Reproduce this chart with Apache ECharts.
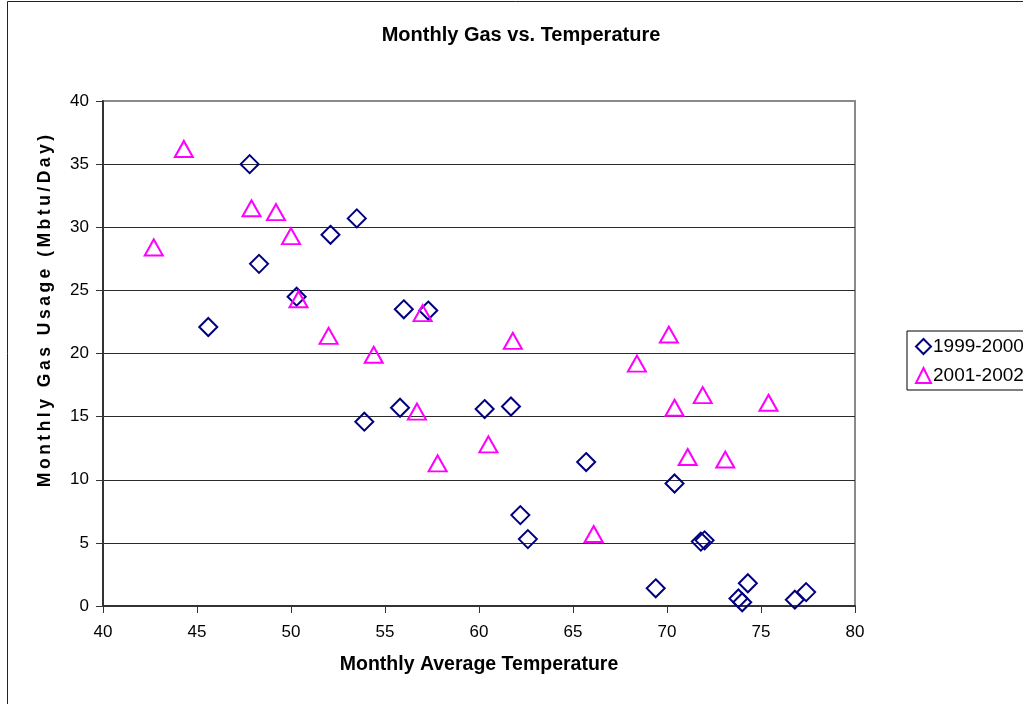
<!DOCTYPE html>
<html>
<head>
<meta charset="utf-8">
<script src="https://cdn.jsdelivr.net/npm/echarts@6/dist/echarts.min.js"></script>
<style>
  html, body { margin: 0; padding: 0; background: #fff; }
  #chart { width: 1023px; height: 704px; }
</style>
</head>
<body>
<div id="chart"></div>
<script>
// Monthly average temperature (x) and gas usage in Mbtu/Day (y)
const season1Name = '1999-2000';
const season1Temp = [47.8, 45.6, 48.3, 50.3, 52.1, 53.5, 53.9, 56.0, 55.8, 57.3, 60.3, 61.7, 62.2, 62.6, 65.7, 69.4, 70.4, 71.8, 72.0, 74.3, 73.8, 74.0, 76.8, 77.4];
const season1Gas  = [35.0, 22.1, 27.1, 24.5, 29.4, 30.7, 14.6, 23.5, 15.7, 23.4, 15.6, 15.8, 7.2, 5.3, 11.4, 1.4, 9.7, 5.1, 5.2, 1.8, 0.6, 0.3, 0.5, 1.1];

const season2Name = '2001-2002';
const season2Temp = [44.3, 42.7, 47.9, 49.2, 50.0, 50.4, 52.0, 54.4, 56.7, 57.0, 57.8, 60.5, 61.8, 66.1, 68.4, 70.1, 70.4, 71.1, 71.9, 73.1, 75.4];
const season2Gas  = [36.2, 28.4, 31.5, 31.2, 29.3, 24.3, 21.4, 19.9, 15.4, 23.2, 11.3, 12.8, 21.0, 5.7, 19.2, 21.5, 15.7, 11.8, 16.7, 11.6, 16.1];

const xTicks = { min: 40, max: 80, step: 5 };
const yTicks = { min: 0, max: 40, step: 5 };

const chartTitle = 'Monthly Gas vs. Temperature';
const xTitle = 'Monthly Average Temperature';
const yTitle = 'Monthly Gas Usage (Mbtu/Day)';

function pairs(xs, ys) { return xs.map((x, i) => [x, ys[i]]); }
// widen the tracking of a label by putting a thin space between its letters
function tracked(s) { return s.split('').join('\u2009'); }

const FONT = '"Liberation Sans", Arial, sans-serif';
const gridLineColors = [];
for (let v = yTicks.min; v <= yTicks.max; v += yTicks.step) {
  gridLineColors.push(v === yTicks.max ? '#8a8a8a' : '#2b2b2b');
}

const chart = echarts.init(document.getElementById('chart'), null, { renderer: 'canvas' });
chart.setOption({
  animation: false,
  backgroundColor: '#fff',
  textStyle: { fontFamily: FONT },
  graphic: [
    {
      // outer frame of the chart
      type: 'rect',
      left: 5, top: -1,
      shape: { width: 1200, height: 900 },
      style: { fill: 'none', stroke: '#222', lineWidth: 1 },
      silent: true, z: -1
    },
    {
      // vertical axis title, reading bottom to top
      type: 'text',
      x: 45, y: 311,
      rotation: Math.PI / 2,
      style: {
        text: tracked(yTitle),
        font: 'bold 17.5px ' + FONT,
        fill: '#000',
        align: 'center',
        verticalAlign: 'middle'
      },
      silent: true
    }
  ],
  title: {
    text: chartTitle,
    left: 516, top: 20, textAlign: 'center',
    textStyle: { fontFamily: FONT, fontSize: 20, fontWeight: 'bold', color: '#000' }
  },
  legend: {
    orient: 'vertical',
    left: 907, top: 331,
    padding: [6, 8, 5, 8],
    itemGap: 10,
    itemWidth: 15, itemHeight: 15,
    borderColor: '#000', borderWidth: 1,
    textStyle: { fontFamily: FONT, fontSize: 19, color: '#000', padding: [0, 0, 0, -3] },
    data: [season1Name, season2Name]
  },
  grid: {
    left: 103, right: 168, top: 101, bottom: 98,
    show: true, borderColor: '#8a8a8a', borderWidth: 2, backgroundColor: 'transparent'
  },
  xAxis: {
    type: 'value',
    min: xTicks.min, max: xTicks.max, interval: xTicks.step,
    name: xTitle,
    nameLocation: 'middle', nameGap: 49,
    nameTextStyle: { fontFamily: FONT, fontSize: 19.5, fontWeight: 'bold', color: '#000' },
    axisLine: { show: true, onZero: false, lineStyle: { color: '#333', width: 2 } },
    axisTick: { show: true, inside: false, length: 7, lineStyle: { color: '#333', width: 1 } },
    axisLabel: { fontFamily: FONT, fontSize: 17, color: '#000', margin: 18 },
    splitLine: { show: false }
  },
  yAxis: {
    type: 'value',
    min: yTicks.min, max: yTicks.max, interval: yTicks.step,
    axisLine: { show: true, onZero: false, lineStyle: { color: '#333', width: 2 } },
    axisTick: { show: true, inside: false, length: 7, lineStyle: { color: '#333', width: 1 } },
    axisLabel: { fontFamily: FONT, fontSize: 17, color: '#000', margin: 14 },
    splitLine: { show: true, lineStyle: { color: gridLineColors, width: 1 } }
  },
  series: [
    {
      name: season1Name,
      type: 'scatter',
      symbol: 'diamond',
      symbolSize: [18, 18],
      itemStyle: { color: 'rgba(255,255,255,0)', borderColor: '#000080', borderWidth: 2, opacity: 1 },
      data: pairs(season1Temp, season1Gas)
    },
    {
      name: season2Name,
      type: 'scatter',
      symbol: 'triangle',
      symbolSize: [18, 16],
      itemStyle: { color: 'rgba(255,255,255,0)', borderColor: '#FF00FF', borderWidth: 2, opacity: 1 },
      data: pairs(season2Temp, season2Gas)
    }
  ]
});
</script>
</body>
</html>
